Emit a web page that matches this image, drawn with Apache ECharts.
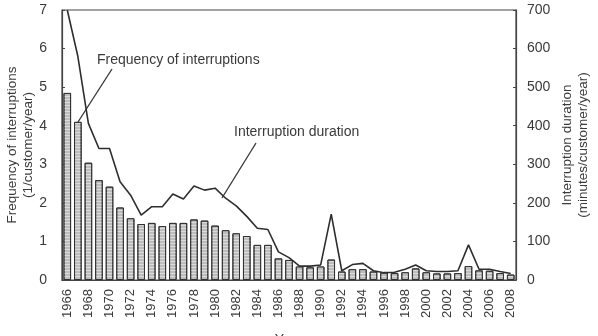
<!DOCTYPE html>
<html>
<head>
<meta charset="utf-8">
<script src="https://cdn.jsdelivr.net/npm/echarts@6/dist/echarts.min.js"></script>
<style>
  html, body { margin: 0; padding: 0; background: #fff; }
  #chart { width: 598px; height: 336px; }
</style>
</head>
<body>
<div id="chart"></div>
<script>
// years on the x axis
const years = [];
for (let y = 1966; y <= 2008; y++) years.push(String(y));

// frequency of interruptions (1/customer/year) - bars, left axis
const frequency = [
  4.85, 4.1, 3.04, 2.59, 2.42, 1.88, 1.6, 1.45, 1.48, 1.4,
  1.48, 1.48, 1.57, 1.54, 1.41, 1.29, 1.21, 1.14, 0.91, 0.91,
  0.56, 0.52, 0.35, 0.33, 0.35, 0.53, 0.22, 0.28, 0.28, 0.22,
  0.19, 0.18, 0.2, 0.3, 0.2, 0.17, 0.17, 0.18, 0.36, 0.25,
  0.24, 0.18, 0.14
];

// interruption duration (minutes/customer/year) - line, right axis
const duration = [
  700, 580, 406, 341, 341, 255, 220, 168, 190, 190,
  223, 210, 244, 233, 238, 212, 192, 165, 134, 131,
  73, 58, 36, 36, 39, 171, 24, 40, 43, 24,
  19, 20, 28, 39, 24, 22, 22, 24, 91, 28,
  28, 22, 17
];

const FONT = 'Liberation Sans';
const TXT = '#3a3a3a';
const AX = '#444';

const chart = echarts.init(document.getElementById('chart'), null, { renderer: 'canvas' });

chart.setOption({
  animation: false,
  textStyle: { fontFamily: FONT, color: TXT },
  grid: {
    left: 62, right: 82, top: 10, bottom: 56,
    outerBoundsMode: 'none',
    containLabel: false,
    show: true, borderColor: AX, borderWidth: 1.2
  },
  xAxis: {
    type: 'category',
    data: years,
    name: 'Year',
    nameLocation: 'middle',
    nameGap: 53,
    nameMoveOverlap: false,
    nameTextStyle: { fontSize: 14, color: TXT },
    axisLine: { lineStyle: { color: AX, width: 1.2 } },
    axisTick: { show: false },
    axisLabel: { rotate: 90, interval: 1, fontSize: 13, color: TXT, margin: 9 }
  },
  yAxis: [
    {
      type: 'value',
      min: 0, max: 7, interval: 1,
      name: 'Frequency of interruptions\n(1/customer/year)',
      nameLocation: 'middle',
      nameGap: 26,
      nameMoveOverlap: false,
      nameRotate: 90,
      nameTextStyle: { fontSize: 13.5, color: TXT, lineHeight: 16 },
      axisLine: { show: true, lineStyle: { color: AX, width: 1.2 } },
      axisTick: { show: true, inside: true, length: 3, lineStyle: { color: AX } },
      axisLabel: { fontSize: 14, color: TXT, margin: 15 },
      splitLine: { show: false }
    },
    {
      type: 'value',
      min: 0, max: 700, interval: 100,
      name: 'Interruption duration\n(minutes/customer/year)',
      nameLocation: 'middle',
      nameGap: 43,
      nameMoveOverlap: false,
      nameRotate: 90,
      nameTextStyle: { fontSize: 13.5, color: TXT, lineHeight: 16 },
      axisLine: { show: true, lineStyle: { color: AX, width: 1.2 } },
      axisTick: { show: true, inside: true, length: 3, lineStyle: { color: AX } },
      axisLabel: { fontSize: 14, color: TXT, margin: 11 },
      splitLine: { show: false }
    }
  ],
  series: [
    {
      name: 'Frequency of interruptions',
      type: 'bar',
      yAxisIndex: 0,
      data: frequency,
      barCategoryGap: '28%',
      itemStyle: {
        color: '#bdbdbd',
        borderColor: '#333',
        borderWidth: 1,
        decal: {
          symbol: 'rect',
          symbolSize: 1,
          dashArrayX: [1, 0],
          dashArrayY: [1, 2],
          color: 'rgba(255,255,255,0.45)',
          rotation: 0
        }
      }
    },
    {
      name: 'Interruption duration',
      type: 'line',
      yAxisIndex: 1,
      data: duration,
      showSymbol: false,
      symbol: 'none',
      lineStyle: { color: '#2e2e2e', width: 1.6 },
      z: 5
    }
  ],
  graphic: [
    { type: 'text', left: 97, top: 53, style: { text: 'Frequency of interruptions', font: '14px "Liberation Sans"', fill: TXT } },
    { type: 'line', shape: { x1: 112, y1: 69, x2: 78, y2: 122 }, style: { stroke: '#333', lineWidth: 1.3 } },
    { type: 'text', left: 234, top: 125, style: { text: 'Interruption duration', font: '14px "Liberation Sans"', fill: TXT } },
    { type: 'line', shape: { x1: 256, y1: 143, x2: 222, y2: 198 }, style: { stroke: '#333', lineWidth: 1.3 } }
  ]
});
</script>
</body>
</html>
